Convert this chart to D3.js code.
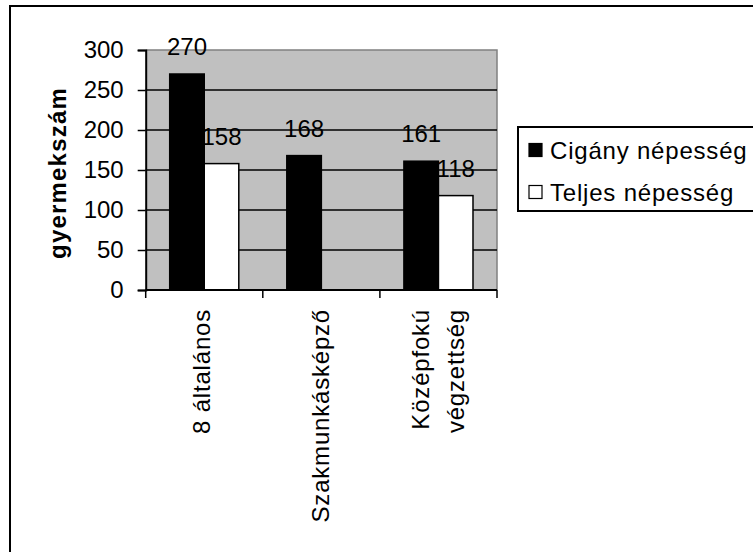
<!DOCTYPE html>
<html>
<head>
<meta charset="utf-8">
<script src="https://cdn.jsdelivr.net/npm/d3@7"></script>
<style>
  html, body { margin: 0; padding: 0; background: #fff; }
  svg { display: block; font-family: "Liberation Sans", Arial, sans-serif; }
</style>
</head>
<body>
<svg id="chart" width="753" height="552"></svg>
<script>
const categories = [["8  általános"], ["Szakmunkásképző"], ["Középfokú", "végzettség"]];
const categoryKeys = ["8 általános", "Szakmunkásképző", "Középfokú végzettség"];
const seriesNames = ["Cigány népesség", "Teljes népesség"];
const ciganyValues = [270, 168, 161];
const teljesValues = [158, null, 118];
const yTicks = [0, 50, 100, 150, 200, 250, 300];
const yTitle = "gyermekszám";

const svg = d3.select("#chart");
const FONT = 24, LS = 0.8;

// outer frame
svg.append("rect").attr("x", 10).attr("y", 6).attr("width", 760).attr("height", 560)
  .attr("fill", "#fff").attr("stroke", "#000").attr("stroke-width", 2);

const plot = { left: 145.7, right: 497, top: 50, bottom: 290 };

const x = d3.scaleBand().domain(categoryKeys).range([plot.left, plot.right]).paddingInner(0).paddingOuter(0);
const y = d3.scaleLinear().domain([0, 300]).range([plot.bottom, plot.top]);
const inner = d3.scaleBand().domain(seriesNames).range([0, x.bandwidth()]).paddingInner(0).paddingOuter(0.695);

// plot background
svg.append("rect").attr("x", plot.left).attr("y", plot.top)
  .attr("width", plot.right - plot.left).attr("height", plot.bottom - plot.top)
  .attr("fill", "#c0c0c0");
// top/right border gray
svg.append("path")
  .attr("d", `M${plot.left},${plot.top}H${plot.right}V${plot.bottom}`)
  .attr("fill", "none").attr("stroke", "#808080").attr("stroke-width", 1.5);

// gridlines
svg.append("g").selectAll("line").data(yTicks.filter(t => t > 0 && t < 300)).join("line")
  .attr("x1", plot.left).attr("x2", plot.right)
  .attr("y1", d => y(d)).attr("y2", d => y(d))
  .attr("stroke", "#000").attr("stroke-width", 1.5);

// bars
const seriesData = [ciganyValues, teljesValues];
const fills = ["#000", "#fff"];
seriesNames.forEach((s, si) => {
  const g = svg.append("g");
  g.selectAll("rect").data(categoryKeys.map((c, i) => ({ c, v: seriesData[si][i] })).filter(d => d.v != null))
    .join("rect")
    .attr("x", d => x(d.c) + inner(s))
    .attr("y", d => y(d.v))
    .attr("width", inner.bandwidth())
    .attr("height", d => y(0) - y(d.v))
    .attr("fill", fills[si]).attr("stroke", "#000").attr("stroke-width", 1.5);
});

// y axis
const yAxis = d3.axisLeft(y).tickValues(yTicks).tickSize(8).tickPadding(14);
const yg = svg.append("g").attr("transform", `translate(${plot.left},0)`).call(yAxis);
yg.select(".domain").attr("stroke", "#000").attr("stroke-width", 2);
yg.selectAll(".tick line").attr("stroke", "#000").attr("stroke-width", 1.5);
yg.selectAll(".tick text").attr("font-size", FONT).attr("fill", "#000")
  .attr("font-family", "Liberation Sans, Arial, sans-serif");

// x axis
const xTickPos = [plot.left, ...categoryKeys.map(c => x(c) + x.bandwidth())];
svg.append("line").attr("x1", plot.left).attr("x2", plot.right).attr("y1", plot.bottom).attr("y2", plot.bottom)
  .attr("stroke", "#000").attr("stroke-width", 2);
svg.append("g").selectAll("line").data(xTickPos).join("line")
  .attr("x1", d => d).attr("x2", d => d).attr("y1", plot.bottom).attr("y2", plot.bottom + 8)
  .attr("stroke", "#000").attr("stroke-width", 1.5);

// category labels (rotated)
const labelShift = [-2, 0, 0];
categoryKeys.forEach((c, i) => {
  const lines = categories[i];
  const cx = x(c) + x.bandwidth() / 2;
  const spacing = 35;
  lines.forEach((ln, li) => {
    const off = (li - (lines.length - 1) / 2) * spacing;
    svg.append("text")
      .attr("transform", `translate(${cx + off + 8 + labelShift[i]},${plot.bottom + 19}) rotate(-90)`)
      .attr("text-anchor", "end")
      .attr("font-size", FONT).attr("letter-spacing", LS).attr("fill", "#000")
      .text(ln);
  });
});

// data labels
seriesNames.forEach((s, si) => {
  categoryKeys.forEach((c, i) => {
    const v = seriesData[si][i];
    if (v == null) return;
    svg.append("text")
      .attr("x", x(c) + inner(s) + inner.bandwidth() / 2)
      .attr("y", y(v) - 19)
      .attr("text-anchor", "middle")
      .attr("font-size", FONT).attr("fill", "#000")
      .text(v);
  });
});

// y title
svg.append("text")
  .attr("transform", `translate(66,173) rotate(-90)`)
  .attr("text-anchor", "middle")
  .attr("font-size", FONT).attr("font-weight", "bold").attr("letter-spacing", 1.2).attr("fill", "#000")
  .text(yTitle);

// legend
const lg = svg.append("g");
lg.append("rect").attr("x", 518).attr("y", 127).attr("width", 260).attr("height", 84)
  .attr("fill", "#fff").attr("stroke", "#000").attr("stroke-width", 2);
seriesNames.forEach((s, si) => {
  const cy = 150 + si * 42;
  lg.append("rect").attr("x", 529).attr("y", cy - 6.5).attr("width", 13).attr("height", 13)
    .attr("fill", fills[si]).attr("stroke", "#000").attr("stroke-width", 1.2);
  lg.append("text").attr("x", 550).attr("y", cy + 9)
    .attr("font-size", FONT).attr("letter-spacing", LS).attr("fill", "#000").text(s);
});
</script>
</body>
</html>
